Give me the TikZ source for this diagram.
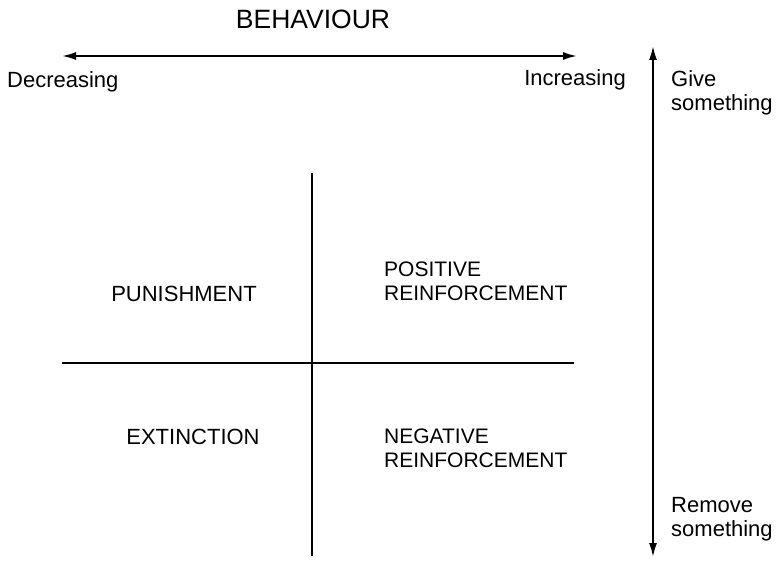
\documentclass[tikz,border=0pt]{standalone}
\usepackage{fontspec}
\setmainfont{Liberation Sans}
\usetikzlibrary{arrows.meta}
\tikzset{
  axis/.style={line width=2pt, {Latex[length=14pt,width=8pt]}-{Latex[length=14pt,width=8pt]}},
  divider/.style={line width=2pt},
  lbl/.style={inner sep=0pt, font=\fontsize{22}{24}\selectfont, align=left},
  qlbl/.style={inner sep=0pt, font=\fontsize{21}{24}\selectfont, align=left},
  title/.style={inner sep=0pt, font=\fontsize{26.5}{28}\selectfont}
}
\begin{document}
\begin{tikzpicture}[x=1pt,y=-1pt]
\useasboundingbox (0,0) rectangle (781,561);
% title
\node[title] (beh) at (313,19) {BEHAVIOUR};
% horizontal axis
\coordinate (hl) at (62,56);
\coordinate (hr) at (577,56);
\draw[axis] (hl) -- (hr);
\node[lbl, anchor=west] (dec) at (7,82) {Decreasing};
\node[lbl, anchor=east] (inc) at (626,80) {Increasing};
% vertical axis
\coordinate (vt) at (653,46);
\coordinate (vb) at (653,557);
\draw[axis] (vt) -- (vb);
\node[lbl, anchor=north west] (give) at (671,70) {Give\\something};
\node[lbl, anchor=north west] (rem) at (671,497) {Remove\\something};
% quadrant dividers
\coordinate (qt) at (312,173);
\coordinate (qb) at (312,556);
\coordinate (ql) at (62,363);
\coordinate (qr) at (574,363);
\draw[divider] (qt) -- (qb);
\draw[divider] (ql) -- (qr);
% quadrant labels
\node[lbl] (pun) at (184,294) {PUNISHMENT};
\node[qlbl, anchor=north west] (pos) at (384,262) {POSITIVE\\REINFORCEMENT};
\node[lbl] (ext) at (193,437) {EXTINCTION};
\node[qlbl, anchor=north west] (neg) at (384,429) {NEGATIVE\\REINFORCEMENT};
\end{tikzpicture}
\end{document}
